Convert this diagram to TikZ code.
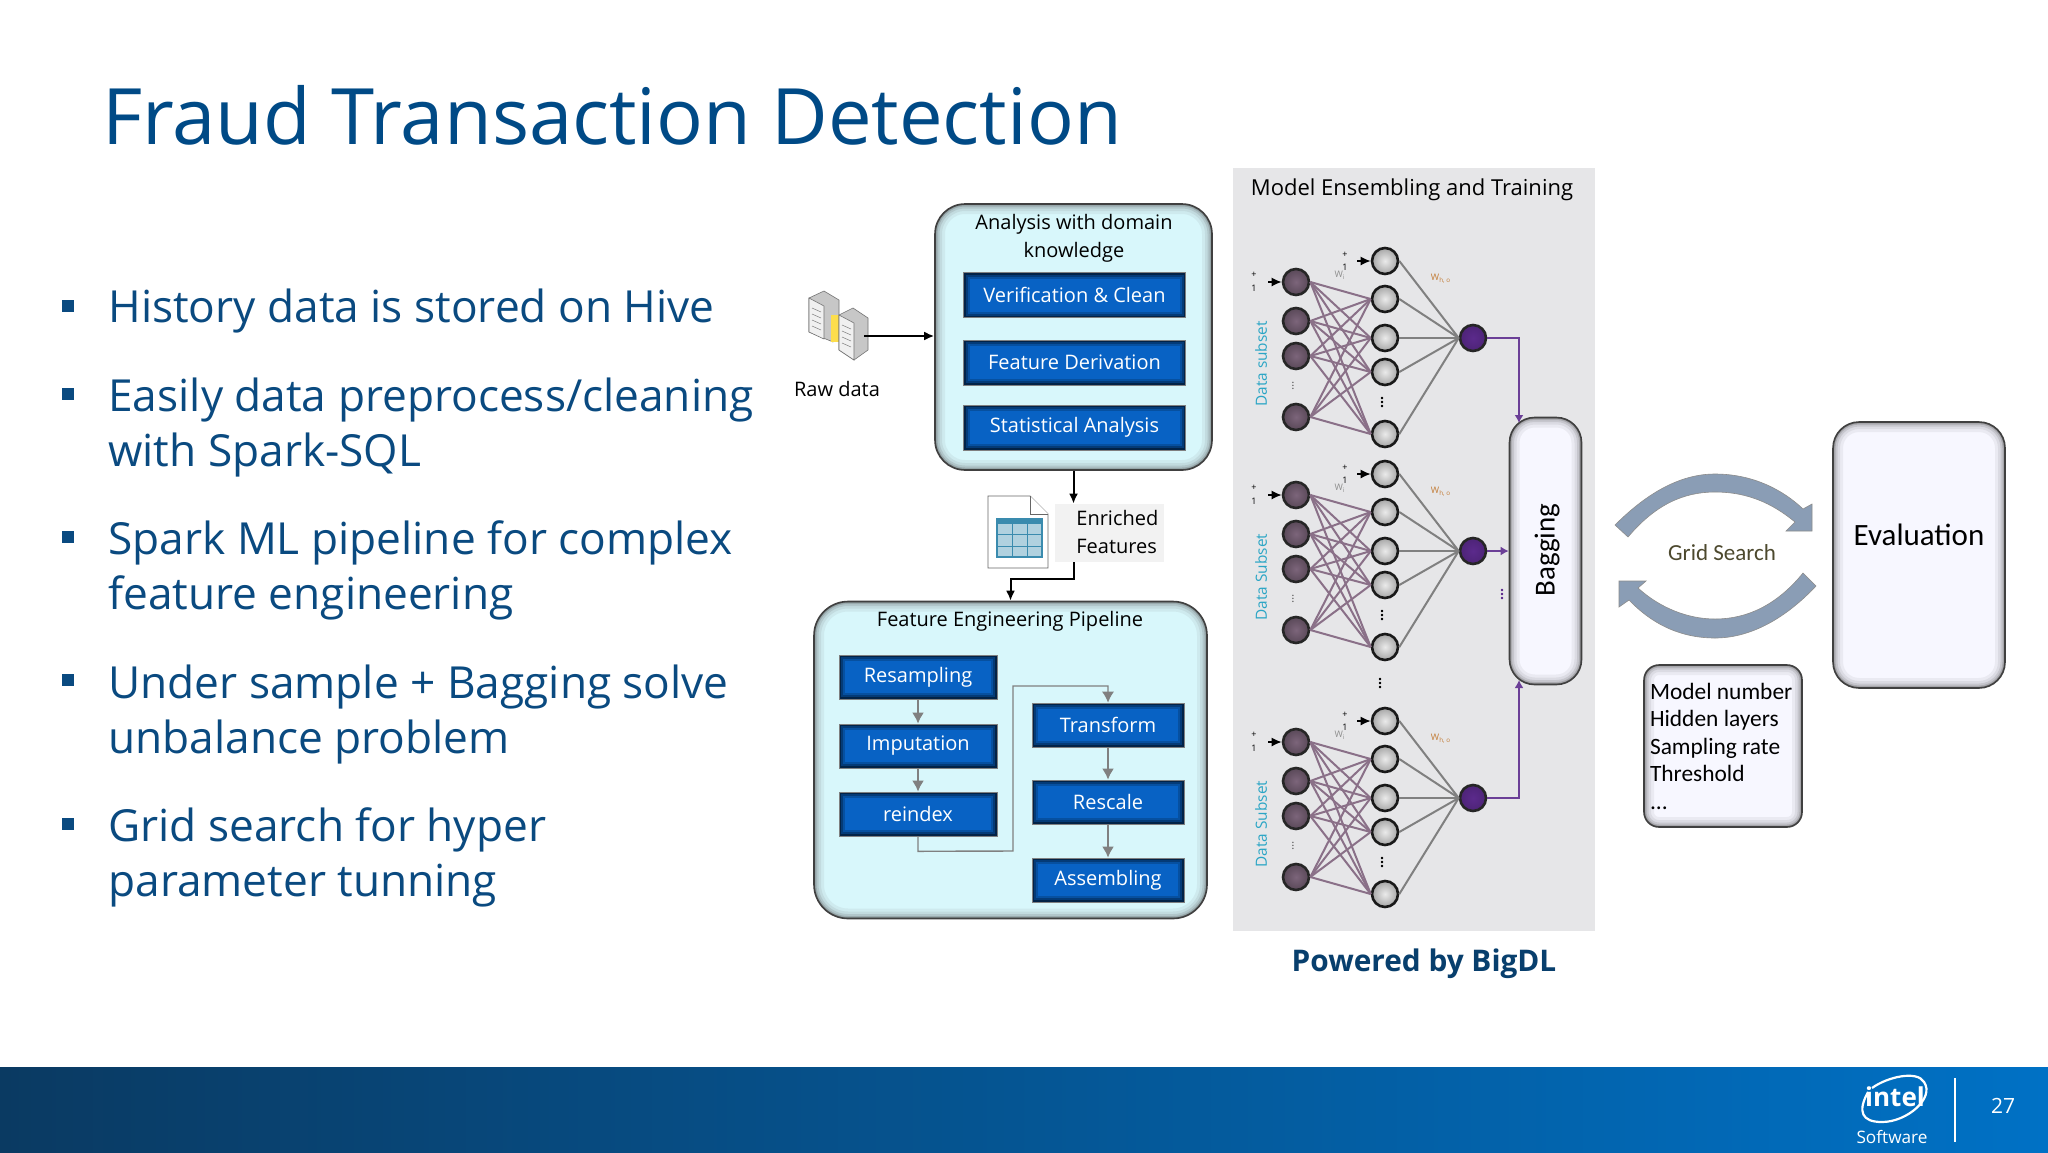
\documentclass[tikz,border=0pt]{standalone}
\usepackage{fontspec}
\setmainfont{Open Sans}
\newfontfamily\calib{Carlito}
\usetikzlibrary{calc,arrows.meta}
\definecolor{navy}{HTML}{0A4A80}
\definecolor{titleblue}{HTML}{004A86}
\definecolor{paleblue}{HTML}{D8F7FB}
\definecolor{boxblue}{HTML}{0862C4}
\definecolor{panel}{HTML}{E6E6E8}
\definecolor{arrowblue}{HTML}{8A9DB5}
\definecolor{nnpurple}{HTML}{5B2A8C}
\definecolor{linkpurple}{HTML}{8A7088}
\definecolor{subsetblue}{HTML}{2AA5C5}
\definecolor{tableblue}{HTML}{3A8BAE}
\definecolor{barleft}{HTML}{0A3A62}
\definecolor{barmid}{HTML}{0060AE}
\definecolor{barright}{HTML}{0071C5}
\tikzset{
  inner glow/.style 2 args={path picture={
    \foreach \w/\o in {10pt/.07,7pt/.09,4.5pt/.14,2.5pt/.22,1.2pt/.35}
      \draw[#1,line width=\w,opacity=\o,rounded corners=#2]
        (path picture bounding box.north west) rectangle (path picture bounding box.south east);}},
  blue glow/.style={path picture={
    \foreach \w/\o in {6pt/.18,4pt/.25,2pt/.4}
      \draw[black,line width=\w,opacity=\o]
        (path picture bounding box.north west) rectangle (path picture bounding box.south east);}},
  softbox/.style n args={3}{draw=black!75,line width=.8pt,fill=paleblue,rounded corners=#3,
    minimum width=#1,minimum height=#2,inner sep=0pt,inner glow={black!70}{#3}},
  whitebox/.style n args={3}{softbox={#1}{#2}{#3},fill=white!97!blue},
  bluebox/.style n args={2}{draw=black!50,line width=.3pt,fill=boxblue,text=white,minimum width=#1,minimum height=#2,
    inner sep=0pt,font=\fontsize{10}{12}\selectfont,blue glow},
  plain/.style={inner sep=0pt,font=\fontsize{10}{12}\selectfont},
  bulletline/.style={anchor=base west,inner sep=0pt,text=navy,font=\fontsize{22.1}{24}\selectfont},
  square/.style={fill=navy,minimum size=6pt,inner sep=0pt},
  inputn/.style={circle,draw=black!85,line width=1.3pt,inner color=linkpurple!90!black,outer color=linkpurple!65!black,minimum size=13pt,inner sep=0pt},
  hiddenn/.style={circle,draw=black!90,line width=1.3pt,inner color=white!92!black,outer color=black!35,minimum size=13pt,inner sep=0pt},
  outn/.style={circle,draw=black!85,line width=1.3pt,inner color=nnpurple,outer color=nnpurple!85!black,minimum size=13pt,inner sep=0pt},
  tiny/.style={inner sep=0pt,font=\fontsize{4.5}{5}\selectfont},
  blackarrow/.style={-{Latex[length=5pt,width=4.5pt]},line width=1pt,black},
  greyarrow/.style={-{Latex[length=5.5pt,width=6pt]},line width=1.2pt,black!50},
  purplearrow/.style={-{Latex[length=4pt,width=4.5pt]},line width=1pt,nnpurple!90!white},
  bigarrow/.style={fill=arrowblue,draw=black!45,line width=.3pt},
}
\begin{document}
\begin{tikzpicture}[x=0.5pt,y=-0.5pt]
\fill[white] (0,0) rectangle (2048,1152);
\useasboundingbox (0,0) rectangle (2048,1152);

% Slide
\node[anchor=base west,inner sep=0pt,text=titleblue,font=\fontsize{38.9}{42}\selectfont] (title) at (102,144) {Fraud Transaction Detection};
\foreach \y in {306,394,537,680,824}
  \node[square] (bullet\y) at (68,\y) {};
\foreach \y/\txt in {322/{History data is stored on Hive},
    411/{Easily data preprocess/cleaning},466/{with Spark-SQL},
    554/{Spark ML pipeline for complex},609/{feature engineering},
    698/{Under sample + Bagging solve},753/{unbalance problem},
    841/{Grid search for hyper},896/{parameter tunning}}
  \node[bulletline] (line\y) at (108,\y) {\txt};

% Bottom bar
\shade[left color=barleft,middle color=barmid,right color=barright] (0,1067) rectangle (2048,1152);
\draw[white,line width=1.1pt] (1872,1088) .. controls (1887,1077) and (1917,1070) .. (1924,1082)
  .. controls (1935,1098) and (1907,1122) .. (1882,1122) .. controls (1862,1122) and (1857,1112) .. (1868,1092);
\node[inner sep=0pt,text=white,font=\bfseries\fontsize{13}{14}\selectfont] (intel) at (1895,1097) {intel};
\node[inner sep=0pt,text=white,font=\fontsize{8.6}{10}\selectfont] (software) at (1892,1137) {Software};
\draw[white,line width=.8pt] (1955,1078) -- (1955,1142);
\node[inner sep=0pt,text=white,font=\fontsize{10.5}{12}\selectfont] (page) at (2003,1106) {27};

% Raw data
\draw[black!55,fill=black!22,line width=.3pt] (809,298) -- (824,291) -- (839,300) -- (839,335) -- (833,342) -- (809,332) -- cycle;
\fill[yellow!70!orange!70!white] (831,315) rectangle (840,342);
\draw[black!55,fill=black!22,line width=.3pt] (839,315) -- (853,308) -- (868,318) -- (868,350) -- (854,360) -- (839,350) -- cycle;
\draw[black!55,fill=black!6,line width=.3pt] (839,315) -- (854,323) -- (854,360) -- (839,350) -- cycle;
\draw[black!55,fill=black!6,line width=.3pt] (809,298) -- (824,306) -- (824,339) -- (809,332) -- cycle;
\foreach \k in {0,6,12,18}{
  \draw[black!45,line width=.3pt] (812,308+\k) -- (821,312+\k);
  \draw[black!45,line width=.3pt] (842,325+\k) -- (851,329+\k);}
\node[plain] (raw) at (837,389) {Raw data};
\coordinate (rawout) at (864,336);

% Analysis
\node[softbox={138.5pt}{133pt}{15pt}] (analysis) at (1073.5,337) {};
\node[plain,align=center,font=\fontsize{10}{14}\selectfont] (analysistitle) at (1074,238) {Analysis with domain\\knowledge};
\node[bluebox={111pt}{22.5pt}] (verify) at (1074.5,295) {Verification \& Clean};
\node[bluebox={111pt}{22.5pt}] (derive) at (1074.5,362.5) {Feature Derivation};
\node[bluebox={111pt}{22.5pt}] (stats) at (1074.5,427.5) {Statistical Analysis};
\draw[blackarrow] (rawout) -- (analysis.west |- rawout);

% Enriched features
\draw[black!60,fill=white,line width=.4pt] (988,496) -- (1030,496) -- (1048,514) -- (1048,568) -- (988,568) -- cycle;
\draw[black!60,fill=white,line width=.4pt] (1030,496) -- (1030,514) -- (1048,514);
\fill[tableblue!40!white] (997,519) rectangle (1042,557);
\fill[tableblue] (997,519) rectangle (1042,524);
\draw[tableblue,line width=.6pt] (997,519) rectangle (1042,557);
\foreach \y in {534,546} \draw[tableblue,line width=.5pt] (997,\y) -- (1042,\y);
\foreach \x in {1012,1027} \draw[tableblue,line width=.5pt] (\x,524) -- (\x,557);
\node[fill=black!5,minimum width=54.5pt,minimum height=29pt,inner sep=0pt] (enriched) at (1109.5,533) {};
\node[plain,anchor=west,align=left,font=\fontsize{10}{14}\selectfont] (enrichedlabel) at (1076,532) {Enriched\\Features};

% Pipeline
\node[softbox={196.5pt}{158.5pt}{17pt}] (pipeline) at (1010.5,760) {};
\node[plain] (pipelinetitle) at (1010,621) {Feature Engineering Pipeline};
\node[bluebox={79pt}{22pt}] (resampling) at (918,677) {Resampling};
\node[bluebox={79pt}{22pt}] (imputation) at (918,746) {Imputation};
\node[bluebox={79pt}{22pt}] (reindex) at (918,814) {reindex};
\node[bluebox={76pt}{22pt}] (transform) at (1108,725) {Transform};
\node[bluebox={76pt}{22pt}] (rescale) at (1108,802) {Rescale};
\node[bluebox={76pt}{22pt}] (assembling) at (1108,880) {Assembling};
\draw[greyarrow] (resampling) -- (imputation);
\draw[greyarrow] (imputation) -- (reindex);
\draw[greyarrow] (transform) -- (rescale);
\draw[greyarrow] (rescale) -- (assembling);
\draw[greyarrow,line width=.7pt] (reindex.south) -- ++(0,15) -- (1013,851) -- (1013,686) -| (transform.north);

\draw[blackarrow] (analysis.south) -- (analysis.south |- enriched.north);
\draw[blackarrow] (analysis.south |- enriched.south) -- ++(0,17) -| (pipeline.north);

% Ensemble
\fill[panel] (1233,168) rectangle (1595,931);
\node[inner sep=0pt,font=\fontsize{11}{13}\selectfont] (ensembletitle) at (1412,190) {Model Ensembling and Training};
\foreach \n/\dy/\lab in {a/0/Data subset,b/213/Data Subset,c/460/Data Subset}{
  \foreach \i/\y in {1/282,2/321,3/356,4/417}
    \node[inputn] (in\n\i) at (1296,\y+\dy) {};
  \foreach \j/\y in {1/261,2/299,3/338,4/372,5/434}
    \node[hiddenn] (hid\n\j) at (1385,\y+\dy) {};
  \node[outn] (out\n) at (1473,338+\dy) {};
  \foreach \i in {1,...,4}
    \foreach \j in {2,...,5}
      \draw[linkpurple,line width=1pt] (in\n\i.east) -- (hid\n\j.west);
  \foreach \j in {1,...,5}
    \draw[black!50,line width=1pt] (hid\n\j.east) -- (out\n.west);
  \node[inner sep=0pt,rotate=90,text=subsetblue,font=\fontsize{7.7}{9}\selectfont] (subset\n) at (1261,364+\dy) {\lab};
  \node[tiny] (inplus\n) at (1254,275+\dy) {+};
  \node[tiny] (inone\n) at (1254,288+\dy) {1};
  \node[tiny] (hidplus\n) at (1345,255+\dy) {+};
  \node[tiny] (hidone\n) at (1345,267+\dy) {1};
  \node[tiny,text=black!45] (wi\n) at (1340,275+\dy) {W\textsubscript{i}};
  \node[tiny,text=orange!70!black!80] (wo\n) at (1441,279+\dy) {W\textsubscript{h, o}};
  \coordinate (instart\n) at (1268,282+\dy);
  \coordinate (hidstart\n) at (1357,261+\dy);
  \draw[blackarrow,line width=.8pt] (instart\n) -- (in\n1.west);
  \draw[blackarrow,line width=.8pt] (hidstart\n) -- (hid\n1.west);
  \node[inner sep=0pt,text=black!60,font=\fontsize{6}{6}\selectfont,rotate=90] (indots\n) at (1293,386+\dy) {...};
  \node[inner sep=0pt,font=\bfseries\fontsize{7}{7}\selectfont,rotate=90] (hiddots\n) at (1382,402+\dy) {...};
}
\node[inner sep=0pt,font=\bfseries\fontsize{7}{7}\selectfont,rotate=90] (netdots) at (1380,683) {...};
\node[inner sep=0pt,text=nnpurple,font=\bfseries\fontsize{7}{7}\selectfont,rotate=90] (bagdots) at (1502,594) {...};
\node[whitebox={36pt}{133.5pt}{12.5pt}] (bagging) at (1545.5,551) {};
\node[inner sep=0pt,rotate=90,font=\calib\fontsize{14.5}{16}\selectfont] (baggingtext) at (1547,550) {Bagging};
\coordinate (bagtop) at (1519,423);
\coordinate (bagbot) at (1519,680);
\draw[purplearrow] (outa.east) -| (bagtop);
\draw[purplearrow] (outb.east) -- (bagging.west |- outb);
\draw[purplearrow] (outc.east) -| (bagbot);
\node[inner sep=0pt,text=navy!85!black,font=\bfseries\fontsize{14.9}{17}\selectfont] (bigdl) at (1424,964) {Powered by BigDL};

% Grid search
\draw[bigarrow] (1615,525) .. controls (1650,490) and (1683,474) .. (1715,474)
  .. controls (1753,474) and (1783,490) .. (1803,509) -- (1812,504) -- (1812,531) -- (1786,531) -- (1795,522)
  .. controls (1772,503) and (1747,492) .. (1715,492) .. controls (1683,492) and (1655,505) .. (1628,537) -- cycle;
\draw[bigarrow] (1816,586) .. controls (1782,622) and (1747,638) .. (1715,638)
  .. controls (1678,638) and (1650,622) .. (1629,600) -- (1619,607) -- (1619,581) -- (1646,581) -- (1638,588)
  .. controls (1660,608) and (1688,619) .. (1715,619) .. controls (1747,619) and (1777,605) .. (1803,573) -- cycle;
\node[inner sep=0pt,text=black!60!olive,font=\calib\fontsize{11.5}{13}\selectfont] (gridsearch) at (1722,553) {Grid Search};
\node[whitebox={86pt}{133pt}{13pt}] (evaluation) at (1919,555) {};
\node[inner sep=0pt,font=\calib\fontsize{15.5}{17}\selectfont] (evaltext) at (1919,535) {Evaluation};
\node[whitebox={79pt}{81pt}{7.5pt},text width=73pt,align=flush left,font=\calib\fontsize{11.7}{13.75}\selectfont] (params) at (1723,746)
  {Model number\\Hidden layers\\Sampling rate\\Threshold\\...};
\end{tikzpicture}
\end{document}
